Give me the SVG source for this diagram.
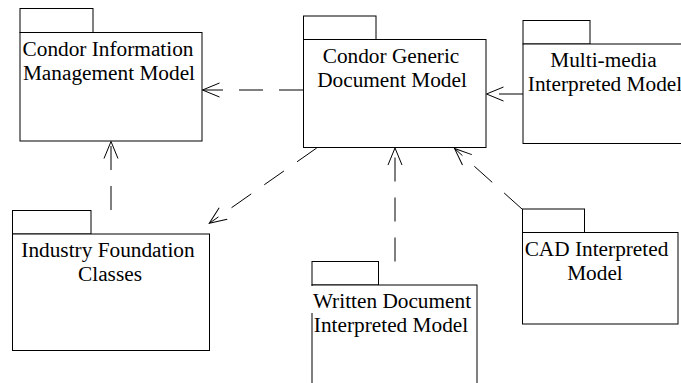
<svg xmlns="http://www.w3.org/2000/svg" width="681" height="383" viewBox="0 0 681 383">
<style>
.box{fill:#fff;stroke:#000;stroke-width:1}
.lbl{font-family:"Liberation Serif","Times New Roman",serif;font-size:21.3px;fill:#000;text-anchor:middle}
.dep{fill:none;stroke:#000;stroke-width:1;stroke-dasharray:24 16}
</style>
<defs>
<marker id="open" markerUnits="userSpaceOnUse" markerWidth="20" markerHeight="20" refX="0" refY="0" orient="auto" overflow="visible">
<path d="M -17 -7 L 0 0 L -17 7" fill="none" stroke="#000" stroke-width="1" stroke-dasharray="none"/>
</marker>
</defs>
<rect width="681" height="383" fill="#fff"/>
<g id="cimm">
<rect class="box" x="20" y="8.5" width="73" height="24"/>
<rect class="box" x="20" y="32.5" width="182" height="108.5"/>
<text class="lbl" x="108" y="56">Condor Information</text>
<text class="lbl" x="109" y="80">Management Model</text>
</g>
<g id="cgdm">
<rect class="box" x="303.5" y="16" width="72.5" height="23.5"/>
<rect class="box" x="303.5" y="39.5" width="182.5" height="108"/>
<text class="lbl" x="391" y="62.8">Condor Generic</text>
<text class="lbl" x="392" y="86.8">Document Model</text>
</g>
<g id="mm">
<rect class="box" x="523" y="20.5" width="67" height="23.5"/>
<rect class="box" x="523" y="44" width="180" height="99.5"/>
<text class="lbl" x="603.5" y="67.3">Multi-media</text>
<text class="lbl" x="605" y="91.3">Interpreted Model</text>
</g>
<g id="ifc">
<rect class="box" x="12.5" y="210.5" width="78.5" height="23.5"/>
<rect class="box" x="12.5" y="234" width="197" height="116.5"/>
<text class="lbl" x="108" y="257.3">Industry Foundation</text>
<text class="lbl" x="110" y="281.3">Classes</text>
</g>
<g id="written">
<rect class="box" x="312" y="261.5" width="66.5" height="23.5"/>
<rect class="box" x="312" y="285" width="165" height="120"/>
<rect x="311" y="286" width="162" height="27" fill="#fff"/>
<text class="lbl" x="392" y="308.3">Written Document</text>
<text class="lbl" x="391" y="332">Interpreted Model</text>
</g>
<g id="cad">
<rect class="box" x="522.5" y="209" width="62" height="23.5"/>
<rect class="box" x="522.5" y="232.5" width="155.5" height="91.5"/>
<text class="lbl" x="596.5" y="255.5">CAD Interpreted</text>
<text class="lbl" x="595" y="279.5">Model</text>
</g>
<g id="connectors">
<line class="dep" x1="303" y1="90" x2="202.5" y2="90" marker-end="url(#open)"/>
<line class="dep" x1="523" y1="94" x2="486.5" y2="94" marker-end="url(#open)"/>
<line class="dep" x1="111" y1="210" x2="111" y2="141.5" marker-end="url(#open)"/>
<line class="dep" x1="316.7" y1="148" x2="209.3" y2="223.3" marker-end="url(#open)"/>
<line class="dep" x1="395" y1="261.5" x2="395" y2="148" marker-end="url(#open)"/>
<line class="dep" x1="522" y1="209" x2="454.5" y2="148.5" marker-end="url(#open)"/>
</g>
</svg>
